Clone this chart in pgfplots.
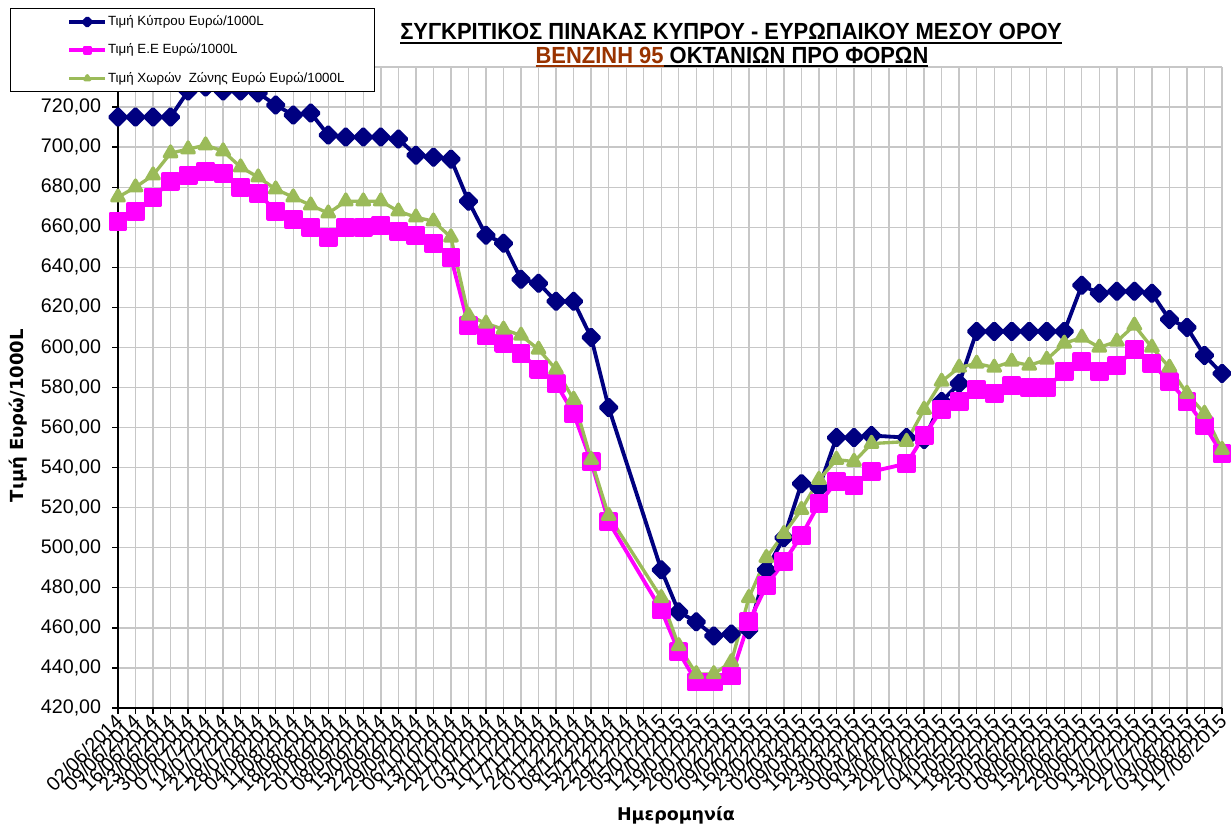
\documentclass[border=0pt]{standalone}
\usepackage{graphicx}
\usepackage{pgfplots}
\usepackage{pgfplotstable}
\pgfplotsset{compat=1.18}
\usepackage{fontspec}
\setmainfont{Liberation Sans}
\newfontfamily\labfont{DejaVu Sans}
\definecolor{cyp}{HTML}{000080}
\definecolor{eu}{HTML}{FF00FF}
\definecolor{ez}{HTML}{9BBB59}
\definecolor{titlebrown}{HTML}{993300}
\newcommand\ul[1]{\setbox0\hbox{#1}\rlap{\rule[-2.4pt]{\wd0}{1.1pt}}\box0}
\newcommand\tickfont{\fontsize{11.8}{13}\selectfont}

\pgfplotstableread{
x y
0 715
1 715
2 715
3 715
4 728
5 730
6 728
7 728
8 727
9 721
10 716
11 717
12 706
13 705
14 705
15 705
16 704
17 696
18 695
19 694
20 673
21 656
22 652
23 634
24 632
25 623
26 623
27 605
28 570
31 489
32 468
33 463
34 456
35 457
36 459
37 489
38 505
39 532
40 530
41 555
42 555
43 556
45 555
46 554
47 573
48 582
49 608
50 608
51 608
52 608
53 608
54 608
55 631
56 627
57 628
58 628
59 627
60 614
61 610
62 596
63 587
}\cyprus

\pgfplotstableread{
x y
0 663
1 668
2 675
3 683
4 686
5 688
6 687
7 680
8 677
9 668
10 664
11 660
12 655
13 660
14 660
15 661
16 658
17 656
18 652
19 645
20 611
21 606
22 602
23 597
24 589
25 582
26 567
27 543
28 513
31 469
32 448
33 433
34 433
35 436
36 463
37 481
38 493
39 506
40 522
41 533
42 531
43 538
45 542
46 556
47 569
48 573
49 579
50 577
51 581
52 580
53 580
54 588
55 593
56 588
57 591
58 599
59 592
60 583
61 573
62 561
63 547
}\eu

\pgfplotstableread{
x y
0 675
1 680
2 686
3 697
4 699
5 701
6 698
7 690
8 685
9 679
10 675
11 671
12 667
13 673
14 673
15 673
16 668
17 665
18 663
19 655
20 616
21 612
22 609
23 606
24 599
25 589
26 574
27 544
28 516
31 475
32 451
33 437
34 437
35 443
36 475
37 495
38 507
39 519
40 534
41 544
42 543
43 552
45 553
46 569
47 583
48 590
49 592
50 590
51 593
52 591
53 594
54 602
55 605
56 600
57 603
58 611
59 600
60 590
61 577
62 567
63 549
}\ez

\begin{document}
\begin{tikzpicture}
\path[use as bounding box] (0pt,0pt) rectangle (738.6pt,498pt);
\begin{axis}[
  at={(70.8pt,73.2pt)}, anchor=south west,
  scale only axis, width=662.4pt, height=384.6pt,
  xmin=0, xmax=63, ymin=420, ymax=740,
  clip=false,
  axis x line*=bottom, axis y line*=left,
  axis line style={black, line width=0.9pt, -},
  xtick={0,...,63},
  xticklabels={02/06/2014,09/06/2014,16/06/2014,23/06/2014,30/06/2014,07/07/2014,14/07/2014,21/07/2014,28/07/2014,04/08/2014,11/08/2014,18/08/2014,25/08/2014,01/09/2014,08/09/2014,15/09/2014,22/09/2014,29/09/2014,06/10/2014,13/10/2014,20/10/2014,27/10/2014,03/11/2014,10/11/2014,17/11/2014,24/11/2014,01/12/2014,08/12/2014,15/12/2014,22/12/2014,29/12/2014,05/01/2015,12/01/2015,19/01/2015,26/01/2015,02/02/2015,09/02/2015,16/02/2015,23/02/2015,02/03/2015,09/03/2015,16/03/2015,23/03/2015,30/03/2015,06/04/2015,13/04/2015,20/04/2015,27/04/2015,04/05/2015,11/05/2015,18/05/2015,25/05/2015,01/06/2015,08/06/2015,15/06/2015,22/06/2015,29/06/2015,06/07/2015,13/07/2015,20/07/2015,27/07/2015,03/08/2015,10/08/2015,17/08/2015},
  x tick label style={rotate=45, anchor=east, font=\tickfont, inner sep=1pt, yshift=-2pt},
  ytick={420,440,...,740},
  yticklabel style={font=\tickfont, xshift=-3pt,
    /pgf/number format/.cd, fixed, fixed zerofill, precision=2, use comma, 1000 sep={}, assume math mode=true},
  tick align=outside, major tick length=3.6pt,
  tick style={black, line width=0.8pt},
  grid=major, major grid style={draw=black!22, line width=0.8pt},
  xlabel={Ημερομηνία}, ylabel={Τιμή Ευρώ/1000L},
  every axis x label/.style={at={(axis description cs:0.5054,-0.167)}, anchor=center, font=\labfont\bfseries\fontsize{10.5}{12}\selectfont},
  every axis y label/.style={at={(axis description cs:-0.0906,0.456)}, rotate=90, anchor=center, font=\labfont\bfseries\fontsize{10.8}{12}\selectfont},
  legend style={at={(axis description cs:-0.0978,1.092)}, anchor=north west, draw=black, line width=0.8pt, fill=white,
    font=\fontsize{8}{9}\selectfont, row sep=5.4pt, inner ysep=2.2pt, column sep=-1.5pt},
  legend cell align=left,
  legend image code/.code={
    \path (-31pt,0pt);
    \draw[#1, mark size=1.6pt, mark repeat=2, mark phase=2] plot coordinates {(0pt,0pt) (10.8pt,0pt) (21.6pt,0pt)};
  },
]
\addplot[cyp, line width=2.3pt, line join=round, mark=square*, mark size=3.4pt, mark options={rotate=45, solid}] table[x=x,y=y] {\cyprus};
\addlegendentry{\makebox[155pt][l]{Τιμή Κύπρου Ευρώ/1000L}}
\addplot[eu, line width=2.3pt, line join=round, mark=square*, mark size=4.5pt, mark options={solid}] table[x=x,y=y] {\eu};
\addlegendentry{Τιμή Ε.Ε Ευρώ/1000L}
\addplot[ez, line width=2pt, line join=round, mark=triangle*, mark size=4.3pt, mark options={solid}] table[x=x,y=y] {\ez};
\addlegendentry{Τιμή Χωρών~ Ζώνης Ευρώ Ευρώ/1000L}
\end{axis}
\node[anchor=base, inner sep=0pt, font=\bfseries\fontsize{14}{16}\selectfont] at (438.6pt,474pt)
  {\scalebox{0.94}[1]{\ul{ΣΥΓΚΡΙΤΙΚΟΣ ΠΙΝΑΚΑΣ ΚΥΠΡΟΥ - ΕΥΡΩΠΑΙΚΟΥ ΜΕΣΟΥ ΟΡΟΥ}}};
\node[anchor=base, inner sep=0pt, font=\bfseries\fontsize{14}{16}\selectfont] at (439.2pt,460pt)
  {\scalebox{0.94}[1]{\textcolor{titlebrown}{\ul{ΒΕΝΖΙΝΗ 95}}\ul{ ΟΚΤΑΝΙΩΝ ΠΡΟ ΦΟΡΩΝ}}};
\end{tikzpicture}
\end{document}
